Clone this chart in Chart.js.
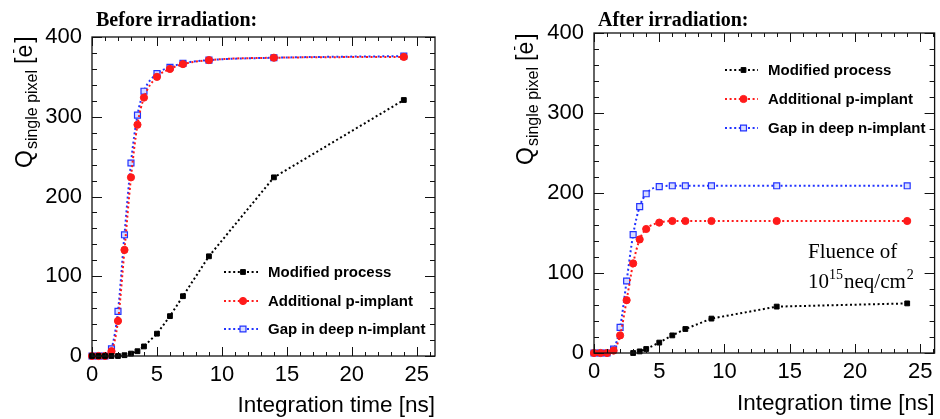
<!DOCTYPE html>
<html>
<head>
<meta charset="utf-8">
<script src="https://cdn.jsdelivr.net/npm/chart.js@4/dist/chart.umd.min.js"></script>
<style>
  html,body{margin:0;padding:0;background:#fff;}
  #wrap{position:relative;width:940px;height:419px;overflow:hidden;}
  .pane{position:absolute;top:0;width:470px;height:419px;}
</style>
</head>
<body>
<div id="wrap">
  <div class="pane" style="left:0"><canvas id="c1" width="470" height="419"></canvas></div>
  <div class="pane" style="left:470px"><canvas id="c2" width="470" height="419"></canvas></div>
</div>
<script>
// ---- data ----
const integrationTime = [0, 0.5, 1, 1.5, 2, 2.5, 3, 3.5, 4, 5, 6, 7, 9, 14, 24];

// Before irradiation
const beforeModified   = [0, 0, 0, 0, 0, 1, 3, 6, 12, 28, 50, 75, 125, 224, 321];
const beforeAdditional = [0, 0, 0, 6, 44, 133, 224, 290, 324, 350, 360, 366, 371, 374, 375];
const beforeGap        = [0, 0, 0, 9, 56, 152, 242, 302, 332, 354, 362, 367, 371, 374, 376];

// After irradiation (fluence 1e15 neq/cm2)
const afterModified    = [null, null, null, null, null, null, 0, 2, 5, 13, 22, 30, 43, 58, 62];
const afterAdditional  = [0, 0, 0, 3, 22, 66, 112, 142, 155, 163, 165, 165, 165, 165, 165];
const afterGap         = [0, 0, 0, 5, 32, 90, 148, 183, 199, 208, 209, 209, 209, 209, 209];

const seriesNames = ['Modified process', 'Additional p-implant', 'Gap in deep n-implant'];
const yTicks = [0, 100, 200, 300, 400];
const xTicks = [0, 5, 10, 15, 20, 25];

// ---- styles ----
const SANS = "'Liberation Sans', Arial, Helvetica, sans-serif";
const SERIF = "'Liberation Serif', 'Times New Roman', serif";
const DASH = [2, 2.6];
const styles = [
  {color: '#000000', pointStyle: 'rect', radius: 3.4, fill: '#000000', bw: 1, smooth: false},
  {color: '#ff1a1a', pointStyle: 'circle', radius: 3.6, fill: '#ff1a1a', bw: 1, smooth: true},
  {color: '#2233ff', pointStyle: 'rect', radius: 4.2, fill: '#d8dcff', bw: 1.2, smooth: true}
];

function toXY(ys) {
  return integrationTime.map((x, i) => ({x: x, y: ys[i]})).filter(p => p.y !== null);
}

function makeDatasets(list) {
  return list.map((ys, i) => ({
    label: seriesNames[i],
    data: toXY(ys),
    borderColor: styles[i].color,
    borderWidth: 2,
    borderDash: DASH,
    cubicInterpolationMode: styles[i].smooth ? 'monotone' : 'default',
    tension: 0,
    pointStyle: styles[i].pointStyle,
    pointRadius: styles[i].radius,
    pointHoverRadius: styles[i].radius,
    pointBackgroundColor: styles[i].fill,
    pointBorderColor: styles[i].color,
    pointBorderWidth: styles[i].bw,
    fill: false,
    clip: false
  }));
}

function drawMarker(ctx, i, x, y) {
  const s = styles[i];
  ctx.save();
  ctx.setLineDash([]);
  ctx.fillStyle = s.fill;
  ctx.strokeStyle = s.color;
  ctx.lineWidth = s.bw;
  ctx.beginPath();
  if (s.pointStyle === 'circle') {
    ctx.arc(x, y, s.radius, 0, Math.PI * 2);
  } else {
    const h = s.radius * Math.SQRT1_2;
    ctx.rect(x - h, y - h, 2 * h, 2 * h);
  }
  ctx.fill();
  ctx.stroke();
  ctx.restore();
}

const decoPlugin = {
  id: 'deco',
  afterDraw(chart) {
    const o = chart.options.plugins.deco;
    const ctx = chart.ctx;
    const a = chart.chartArea;
    const xs = chart.scales.x, ys = chart.scales.y;
    ctx.save();
    // frame
    ctx.strokeStyle = '#111';
    ctx.lineWidth = 1.3;
    ctx.setLineDash([]);
    ctx.strokeRect(a.left, a.top, a.right - a.left, a.bottom - a.top);
    // ticks on all four sides
    ctx.lineWidth = 1;
    ctx.beginPath();
    for (let v = 0; v <= 400; v += 20) {
      const py = Math.round(ys.getPixelForValue(v)) + 0.5;
      const len = (v % 100 === 0) ? 10 : 5;
      ctx.moveTo(a.left, py); ctx.lineTo(a.left + len, py);
      ctx.moveTo(a.right, py); ctx.lineTo(a.right - len, py);
    }
    for (let v = 0; v <= xs.max; v += 1) {
      const px = Math.round(xs.getPixelForValue(v)) + 0.5;
      const len = (v % 5 === 0) ? 9 : 4;
      ctx.moveTo(px, a.bottom); ctx.lineTo(px, a.bottom - len);
      ctx.moveTo(px, a.top); ctx.lineTo(px, a.top + len);
    }
    ctx.stroke();

    ctx.fillStyle = '#000';
    // panel title
    ctx.font = "bold 20px " + SERIF;
    ctx.textAlign = 'left';
    ctx.textBaseline = 'alphabetic';
    ctx.fillText(o.title, o.titleX, 26);

    // x axis title
    ctx.font = "22.5px " + SANS;
    ctx.textAlign = 'right';
    ctx.fillText('Integration time [ns]', a.right, o.xTitleY);

    // y axis title (rotated)
    ctx.save();
    ctx.translate(o.yTitleX, o.yTitleBottom);
    ctx.rotate(-Math.PI / 2);
    ctx.textAlign = 'left';
    let cx = 0;
    ctx.font = "23px " + SANS;
    ctx.fillText('Q', cx, 0); cx += ctx.measureText('Q').width + 1;
    ctx.font = "16px " + SANS;
    ctx.fillText('single pixel', cx, 5); cx += ctx.measureText('single pixel').width + 6;
    ctx.font = "23px " + SANS;
    ctx.fillText('[e', cx, 0); cx += ctx.measureText('[e').width;
    ctx.font = "15px " + SANS;
    ctx.fillText('-', cx - 9, -14);
    ctx.font = "23px " + SANS;
    ctx.fillText(']', cx + 2, 0);
    ctx.restore();

    // legend
    ctx.textBaseline = 'middle';
    ctx.textAlign = 'left';
    ctx.font = "bold 15px " + SANS;
    for (let i = 0; i < 3; i++) {
      const y = o.legendY[i];
      ctx.save();
      ctx.strokeStyle = styles[i].color;
      ctx.lineWidth = 2;
      ctx.setLineDash(DASH);
      ctx.beginPath();
      ctx.moveTo(o.legendX0, y); ctx.lineTo(o.legendX1, y);
      ctx.stroke();
      ctx.restore();
      drawMarker(ctx, i, (o.legendX0 + o.legendX1) / 2 + 2, y);
      ctx.fillStyle = '#000';
      ctx.fillText(seriesNames[i], o.legendTextX, y + 1);
    }

    // fluence annotation
    if (o.fluence) {
      ctx.textBaseline = 'alphabetic';
      ctx.textAlign = 'left';
      ctx.font = "21px " + SERIF;
      const fx = o.fluence.x;
      ctx.fillText('Fluence of', fx, o.fluence.y1);
      let x2 = fx;
      const y2 = o.fluence.y2;
      ctx.fillText('10', x2, y2); x2 += ctx.measureText('10').width;
      ctx.font = "14px " + SERIF;
      ctx.fillText('15', x2, y2 - 9); x2 += ctx.measureText('15').width + 1;
      ctx.font = "21px " + SERIF;
      ctx.fillText('neq/cm', x2, y2); x2 += ctx.measureText('neq/cm').width;
      ctx.font = "14px " + SERIF;
      ctx.fillText('2', x2 + 1, y2 - 9);
    }
    ctx.restore();
  }
};

function makeChart(id, datasets, cfg) {
  return new Chart(document.getElementById(id), {
    type: 'line',
    data: {datasets: datasets},
    plugins: [decoPlugin],
    options: {
      responsive: false,
      animation: false,
      events: [],
      layout: {padding: cfg.padding},
      plugins: {
        legend: {display: false},
        tooltip: {enabled: false},
        deco: cfg.deco
      },
      scales: {
        x: {
          type: 'linear',
          min: 0,
          max: cfg.xMax,
          afterFit: s => { s.height = cfg.xHeight; },
          afterBuildTicks: s => { s.ticks = xTicks.map(v => ({value: v})); },
          grid: {display: false, drawTicks: false},
          border: {display: false},
          ticks: {
            color: '#000',
            font: {family: SANS, size: 22},
            padding: 6,
            maxRotation: 0,
            autoSkip: false
          }
        },
        y: {
          type: 'linear',
          min: 0,
          max: 400,
          afterFit: s => { s.width = cfg.yWidth; },
          afterBuildTicks: s => { s.ticks = yTicks.map(v => ({value: v})); },
          grid: {display: false, drawTicks: false},
          border: {display: false},
          ticks: {
            color: '#000',
            font: {family: SANS, size: 22},
            padding: 10,
            autoSkip: false
          }
        }
      }
    }
  });
}

makeChart('c1', makeDatasets([beforeModified, beforeAdditional, beforeGap]), {
  padding: {left: 0, right: 35, top: 37, bottom: 0},
  xMax: 26.4, xHeight: 63, yWidth: 92,
  deco: {
    title: 'Before irradiation:', titleX: 96,
    xTitleY: 412,
    yTitleX: 32, yTitleBottom: 168,
    legendY: [272, 301, 329], legendX0: 224, legendX1: 258, legendTextX: 268
  }
});

makeChart('c2', makeDatasets([afterModified, afterAdditional, afterGap]), {
  padding: {left: 0, right: 5, top: 33, bottom: 0},
  xMax: 26.1, xHeight: 66, yWidth: 124,
  deco: {
    title: 'After irradiation:', titleX: 128,
    xTitleY: 410,
    yTitleX: 63, yTitleBottom: 165,
    legendY: [70, 99, 128], legendX0: 255, legendX1: 288, legendTextX: 298,
    fluence: {x: 338, y1: 258, y2: 288}
  }
});
</script>
</body>
</html>
